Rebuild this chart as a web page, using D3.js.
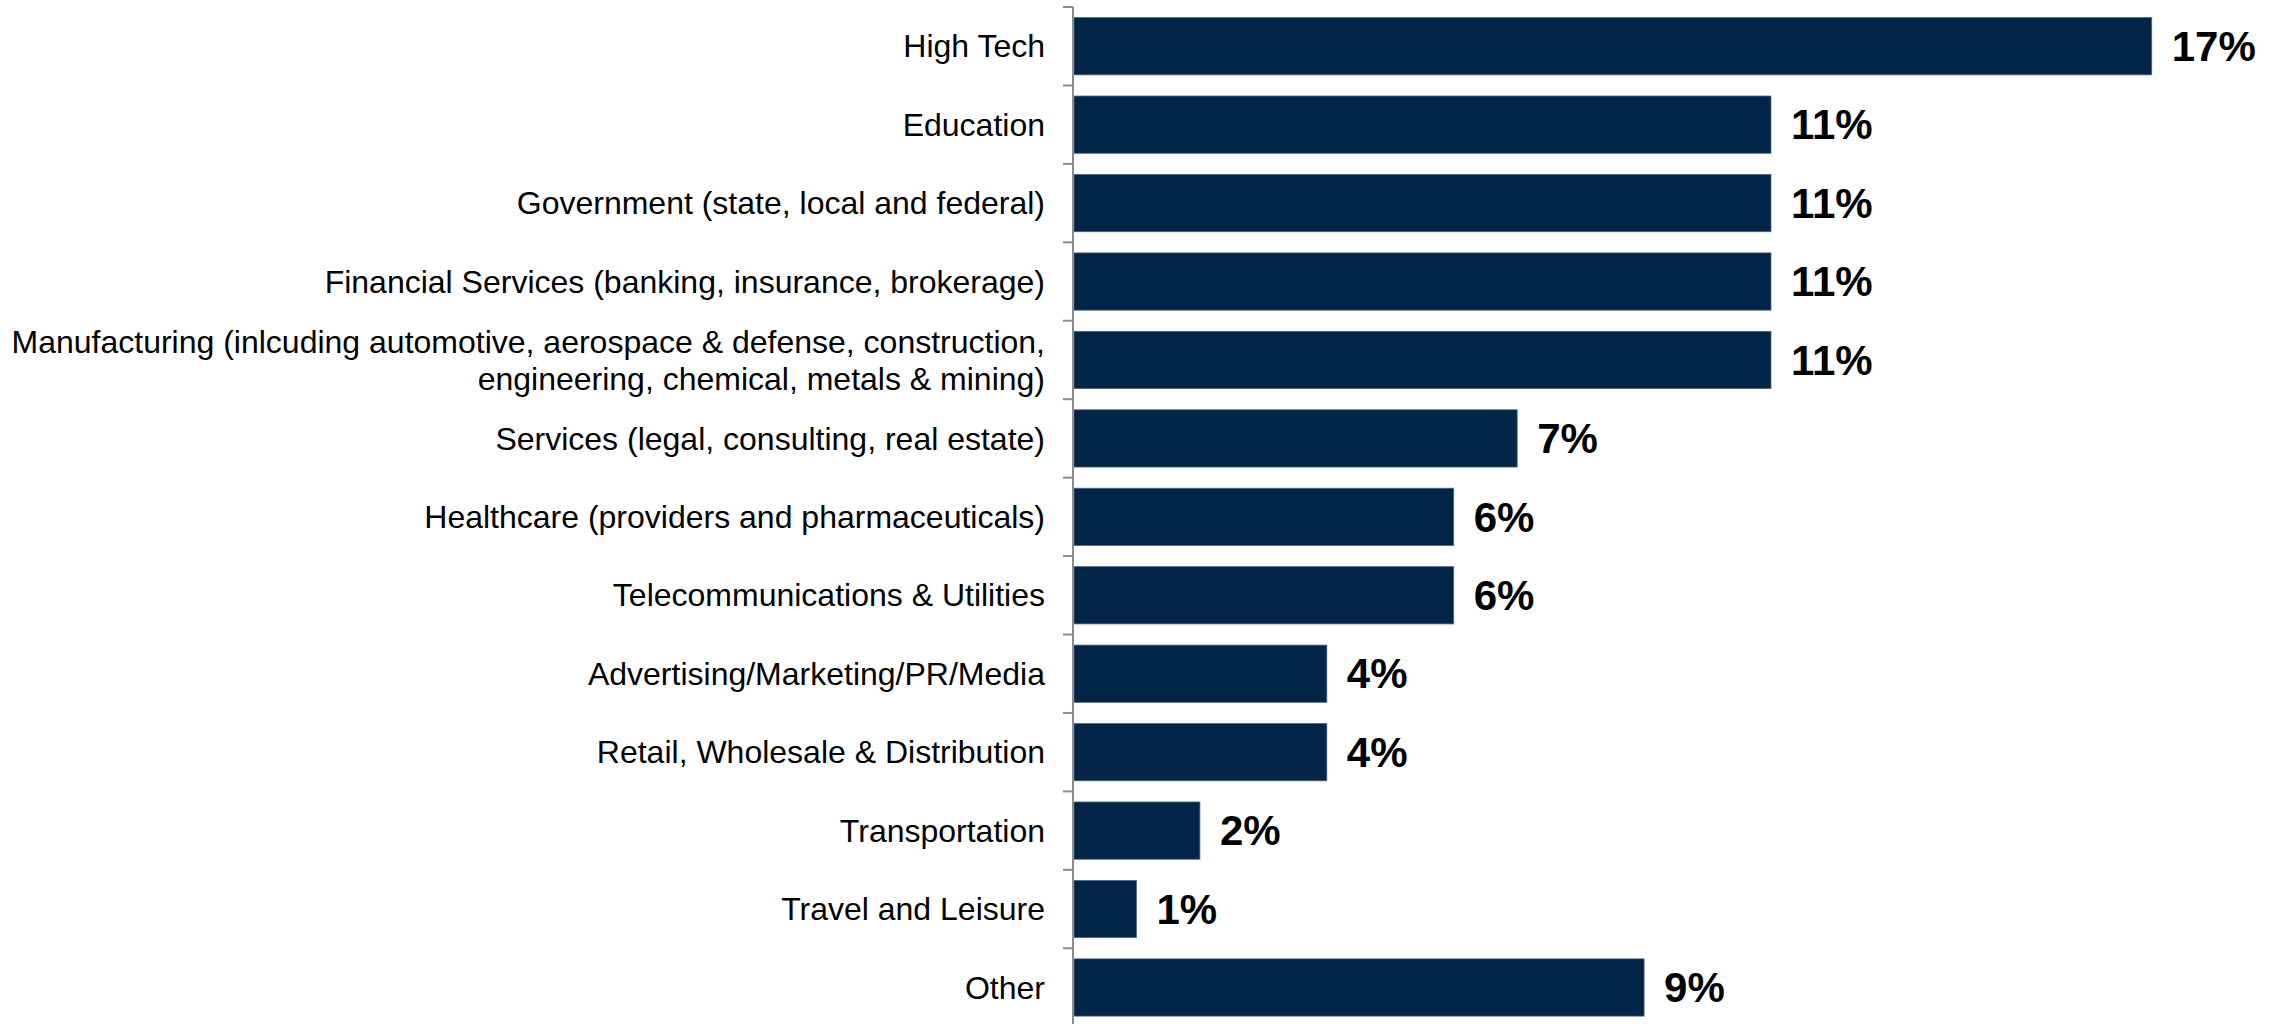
<!DOCTYPE html>
<html>
<head>
<meta charset="utf-8">
<script src="https://cdn.jsdelivr.net/npm/d3@7"></script>
<style>
  html, body { margin: 0; padding: 0; background: #fff; }
  svg { display: block; font-family: "Liberation Sans", Arial, sans-serif; }
</style>
</head>
<body>
<svg id="chart" width="2282" height="1024"></svg>
<script>
// Industry breakdown (share of respondents, %)
const categories = [
  "High Tech",
  "Education",
  "Government (state, local and federal)",
  "Financial Services (banking, insurance, brokerage)",
  "Manufacturing (inlcuding automotive, aerospace & defense, construction,\nengineering, chemical, metals & mining)",
  "Services (legal, consulting, real estate)",
  "Healthcare (providers and pharmaceuticals)",
  "Telecommunications & Utilities",
  "Advertising/Marketing/PR/Media",
  "Retail, Wholesale & Distribution",
  "Transportation",
  "Travel and Leisure",
  "Other"
];
const values = [17, 11, 11, 11, 11, 7, 6, 6, 4, 4, 2, 1, 9];
const valueLabels = ["17%", "11%", "11%", "11%", "11%", "7%", "6%", "6%", "4%", "4%", "2%", "1%", "9%"];

const svg = d3.select("#chart");
const axisX = 1073;

const y = d3.scaleBand()
  .domain(categories)
  .range([7, 1026.7])
  .paddingInner(0.27)
  .paddingOuter(0.135);

const x = d3.scaleLinear()
  .domain([0, 17])
  .range([axisX, 2151.7]);

const barColor = "#012447";

// Bars
svg.append("g")
  .selectAll("rect")
  .data(categories)
  .join("rect")
  .attr("x", x(0) + 1)
  .attr("y", d => y(d))
  .attr("width", (d, i) => x(values[i]) - x(0) - 1)
  .attr("height", y.bandwidth())
  .attr("fill", barColor)
  .attr("stroke", "#4d6685")
  .attr("stroke-width", 0.8);

// Category axis: vertical line with ticks between categories
const step = y.step();
const start = y.range()[0];
const axisG = svg.append("g").attr("stroke", "#8c8c8c").attr("stroke-width", 2);
axisG.append("line")
  .attr("x1", axisX).attr("x2", axisX)
  .attr("y1", start).attr("y2", 1024);
axisG.selectAll("line.tick")
  .data(d3.range(categories.length + 1))
  .join("line")
  .attr("class", "tick")
  .attr("x1", axisX - 10).attr("x2", axisX)
  .attr("y1", k => start + k * step)
  .attr("y2", k => start + k * step);

// Category labels (right aligned, multi-line where needed)
const lineH = 37;
svg.append("g")
  .selectAll("text")
  .data(categories)
  .join("text")
  .attr("text-anchor", "end")
  .attr("font-size", 32)
  .attr("fill", "#000")
  .each(function(d) {
    const lines = d.split("\n");
    const cy = y(d) + y.bandwidth() / 2;
    const t = d3.select(this);
    lines.forEach((ln, j) => {
      t.append("tspan")
        .attr("x", 1045)
        .attr("y", cy + (j - (lines.length - 1) / 2) * lineH)
        .attr("dy", "0.35em")
        .text(ln);
    });
  });

// Value labels
svg.append("g")
  .selectAll("text")
  .data(categories)
  .join("text")
  .attr("x", (d, i) => x(values[i]) + 20)
  .attr("y", d => y(d) + y.bandwidth() / 2)
  .attr("dy", "0.35em")
  .attr("font-size", 42)
  .attr("font-weight", "bold")
  .attr("fill", "#000")
  .text((d, i) => valueLabels[i]);
</script>
</body>
</html>
